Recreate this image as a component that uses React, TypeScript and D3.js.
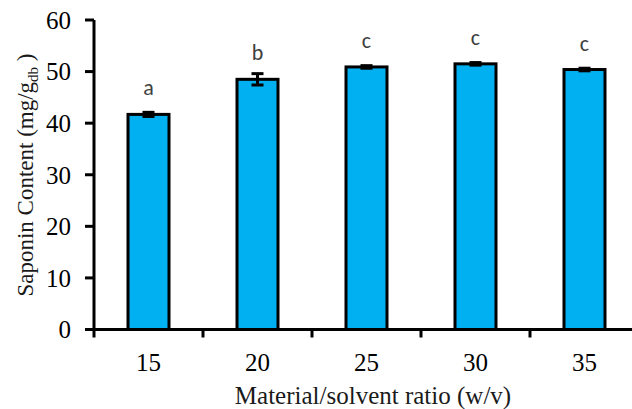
import React, { useEffect, useRef } from "react";
import * as d3 from "d3";

const categories = ["15", "20", "25", "30", "35"];
const values = [41.7, 48.5, 50.9, 51.5, 50.4];
const errors = [0.4, 1.1, 0.25, 0.25, 0.25];
const letters = ["a", "b", "c", "c", "c"];
const yTicks = [0, 10, 20, 30, 40, 50, 60];

const App = () => {
  const ref = useRef<SVGSVGElement>(null);

  useEffect(() => {
    const svg = d3.select(ref.current);
    svg.selectAll("*").remove();

    const left = 94;
    const band = 109;
    // band scale: one slot per ratio, axis runs past the right edge like the original
    const x = d3.scaleBand().domain(categories).range([left, left + band * categories.length]);
    const y = d3.scaleLinear().domain([0, 60]).range([329.5, 20]);
    const cx = (c: string) => (x(c) as number) + x.bandwidth() / 2;

    const g = svg.append("g");

    // bars
    g.selectAll("rect.bar")
      .data(values)
      .enter()
      .append("rect")
      .attr("class", "bar")
      .attr("x", (d, i) => cx(categories[i]) - 20.5)
      .attr("width", 41)
      .attr("y", (d) => y(d))
      .attr("height", (d) => y(0) - y(d))
      .attr("fill", "#00B0F0")
      .attr("stroke", "#000")
      .attr("stroke-width", 3);

    // error bars + letters
    values.forEach((v, i) => {
      const px = cx(categories[i]);
      const e = errors[i];
      g.append("line")
        .attr("x1", px).attr("x2", px)
        .attr("y1", y(v + e)).attr("y2", y(v - e))
        .attr("stroke", "#000").attr("stroke-width", 3);
      [v + e, v - e].forEach((t) => {
        g.append("line")
          .attr("x1", px - 6).attr("x2", px + 6)
          .attr("y1", y(t)).attr("y2", y(t))
          .attr("stroke", "#000").attr("stroke-width", 3);
      });
      g.append("text")
        .attr("x", px)
        .attr("y", y(v) - 19)
        .attr("text-anchor", "middle")
        .attr("font-family", "Carlito, Lato, sans-serif")
        .attr("font-size", 22)
        .attr("fill", "#404040")
        .text(letters[i]);
    });

    // y axis
    g.append("line")
      .attr("x1", left).attr("x2", left)
      .attr("y1", y(60)).attr("y2", y(0))
      .attr("stroke", "#000").attr("stroke-width", 3);
    yTicks.forEach((t) => {
      g.append("line")
        .attr("x1", left - 9).attr("x2", left)
        .attr("y1", y(t)).attr("y2", y(t))
        .attr("stroke", "#000").attr("stroke-width", 3);
      g.append("text")
        .attr("x", 71)
        .attr("y", y(t))
        .attr("dy", "0.35em")
        .attr("text-anchor", "end")
        .attr("font-family", "'Liberation Serif', 'Times New Roman', serif")
        .attr("font-size", 25)
        .attr("fill", "#000")
        .text(t);
    });

    // x axis
    g.append("line")
      .attr("x1", left - 8).attr("x2", 640)
      .attr("y1", y(0)).attr("y2", y(0))
      .attr("stroke", "#000").attr("stroke-width", 3);
    d3.range(categories.length + 1).forEach((i) => {
      const tx = left + band * i;
      g.append("line")
        .attr("x1", tx).attr("x2", tx)
        .attr("y1", y(0)).attr("y2", y(0) + 8)
        .attr("stroke", "#000").attr("stroke-width", 3);
    });
    categories.forEach((c) => {
      g.append("text")
        .attr("x", cx(c))
        .attr("y", 371)
        .attr("text-anchor", "middle")
        .attr("font-family", "'Liberation Serif', 'Times New Roman', serif")
        .attr("font-size", 25)
        .attr("fill", "#000")
        .text(c);
    });

    // axis titles
    g.append("text")
      .attr("x", 373)
      .attr("y", 404)
      .attr("text-anchor", "middle")
      .attr("font-family", "'Liberation Serif', 'Times New Roman', serif")
      .attr("font-size", 25)
      .attr("fill", "#1a1a1a")
      .text("Material/solvent ratio (w/v)");

    const yl = g.append("text")
      .attr("transform", "translate(33,175) rotate(-90)")
      .attr("text-anchor", "middle")
      .attr("font-family", "'Liberation Serif', 'Times New Roman', serif")
      .attr("font-size", 23)
      .attr("fill", "#1a1a1a");
    yl.append("tspan").text("Saponin Content (mg/g");
    yl.append("tspan").attr("font-size", 15).attr("dy", 5).text("db");
    yl.append("tspan").attr("dy", -5).text(" )");
  }, []);

  return <svg ref={ref} width={632} height={409} style={{ position: "absolute", left: 0, top: 0 }} />;
};

export default App;
